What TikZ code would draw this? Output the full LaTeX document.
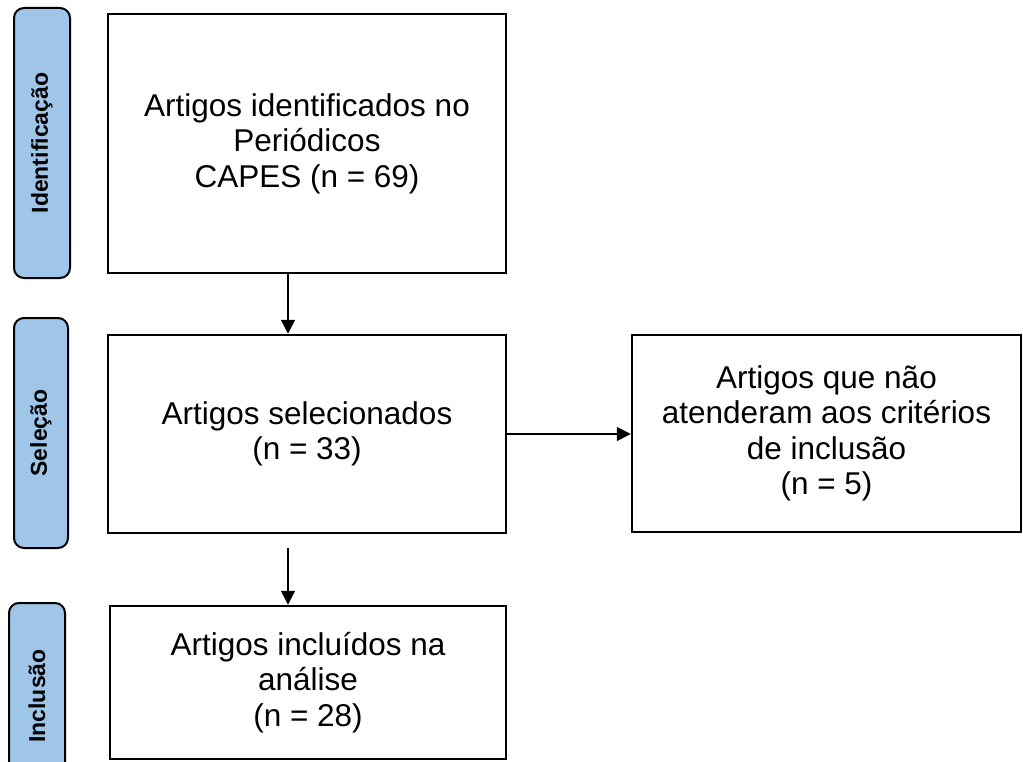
\documentclass[tikz,border=0pt]{standalone}
\usepackage{fontspec}
\setmainfont{Liberation Sans}
\usetikzlibrary{positioning}
\usetikzlibrary{arrows.meta}

\definecolor{phaseblue}{HTML}{9FC5E8}

\tikzset{
    box/.style={draw, line width=2.5pt, align=center, inner sep=0pt,
        font=\fontsize{31.5}{35.5}\selectfont},
    phase/.style={draw, line width=2pt, rounded corners=10pt, fill=phaseblue,
        rotate=90, inner sep=0pt, font=\fontsize{23}{27}\selectfont\bfseries},
    arr/.style={line width=1.5pt, -{Triangle[length=14pt, width=14pt]}}
}

\begin{document}
\begin{tikzpicture}[x=1pt, y=-1pt]

\clip (0,0) rectangle (1023,762);
\fill[white] (0,0) rectangle (1023,762);

% Phases
\node[phase, minimum width=270pt, minimum height=56pt] (s1) at (42,143) {Identificação};
\node[phase, minimum width=230pt, minimum height=54pt] (s2) at (41,433) {Seleção};
\node[phase, minimum width=186pt, minimum height=56pt] (s3) at (37,696) {Inclusão};

% Boxes
\node[box, minimum width=398pt, minimum height=259pt] (b1) at (307,143.5)
    {Artigos identificados no\\Periódicos\\CAPES (n = 69)};
\node[box, minimum width=398pt, minimum height=198pt] (b2) at (307,434)
    {Artigos selecionados\\(n = 33)};
\node[box, minimum width=389pt, minimum height=197pt] (b3) at (826.5,433.5)
    {Artigos que não\\atenderam aos critérios\\de inclusão\\(n = 5)};
\node[box, minimum width=396pt, minimum height=153pt] (b4) at (308,682.5)
    {Artigos incluídos na\\análise\\(n = 28)};

% Connections
\coordinate (ax) at (288,0);
\draw[arr] (b1.south -| ax) -- (b2.north -| ax);
\draw[arr] (b2.east) -- (b3.west |- b2.east);
\draw[arr] ([yshift=-14pt]b2.south -| ax) -- (b4.north -| ax);

\end{tikzpicture}
\end{document}
